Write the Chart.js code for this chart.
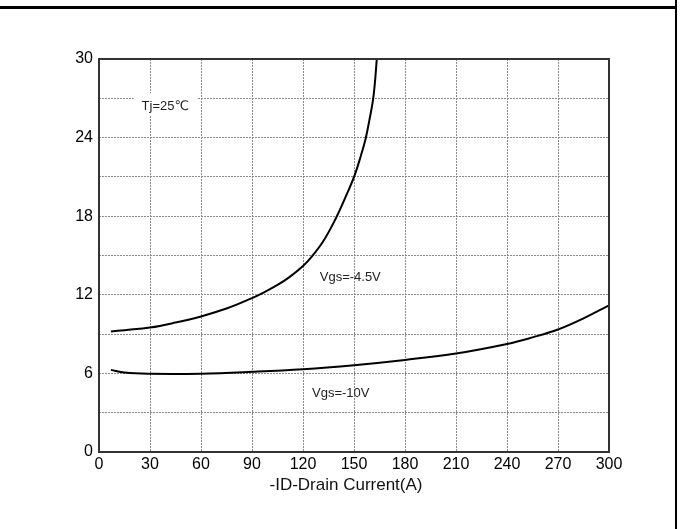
<!DOCTYPE html>
<html>
<head>
<meta charset="utf-8">
<script src="https://cdn.jsdelivr.net/npm/chart.js@4/dist/chart.umd.min.js"></script>
<style>
    body { margin: 0; background: #fff; }
    #wrap { position: relative; width: 693px; height: 529px; }
    #frameTop { position: absolute; left: 0; top: 6px; width: 677px; height: 2.5px; background: #000; }
    #frameRight { position: absolute; left: 674.5px; top: 0; width: 2.5px; height: 529px; background: #000; }
    canvas { position: absolute; left: 0; top: 0; }
</style>
</head>
<body>
<div id="wrap">
    <canvas id="rdsChart" width="693" height="529"></canvas>
    <div id="frameTop"></div>
    <div id="frameRight"></div>
</div>
<script>
// ============================================
// データ
// ============================================

const xTickValues = [0, 30, 60, 90, 120, 150, 180, 210, 240, 270, 300];
const yTickLabels = [0, 6, 12, 18, 24, 30];
const xTitle = '-ID-Drain Current(A)';

// Vgs=-4.5V
const current45 = [7, 15, 30, 45, 60, 75, 90, 96.5, 105, 112, 120, 125.4, 132, 139, 145, 150.3, 154, 156.8, 159, 161.1, 162.3, 163.4];
const rds45 = [9.2, 9.3, 9.5, 9.88, 10.35, 10.95, 11.75, 12.15, 12.75, 13.35, 14.2, 14.95, 16.1, 17.75, 19.45, 21.1, 22.6, 23.9, 25.3, 26.8, 28.2, 30.0];

// Vgs=-10V
const current10 = [7, 15, 30, 60, 90, 120, 150, 180, 210, 240, 255, 270, 285, 300];
const rds10 = [6.27, 6.06, 5.97, 5.98, 6.12, 6.32, 6.63, 7.03, 7.52, 8.25, 8.75, 9.35, 10.2, 11.2];

// 注記 (データ座標)
const notes = [
    { text: 'Tj=25\u2103', x: 39, y: 26.4, box: true },
    { text: 'Vgs=-4.5V', x: 147.8, y: 13.36, box: false },
    { text: 'Vgs=-10V', x: 142.2, y: 4.49, box: false }
];

const FONT = '"Liberation Sans", Arial, "DejaVu Sans", sans-serif';

function toPoints(xs, ys) {
    return xs.map((x, i) => ({ x: x, y: ys[i] }));
}

// ============================================
// プラグイン: 枠線・注記・軸タイトル
// ============================================

const framePlugin = {
    id: 'frameAndNotes',
    afterDatasetsDraw(chart) {
        const ctx = chart.ctx;
        const a = chart.chartArea;
        const xs = chart.scales.x;
        const ys = chart.scales.y;
        ctx.save();
        ctx.font = '13px ' + FONT;
        ctx.textAlign = 'center';
        ctx.textBaseline = 'middle';
        notes.forEach(n => {
            const px = xs.getPixelForValue(n.x);
            const py = ys.getPixelForValue(n.y);
            if (n.box) {
                const w = ctx.measureText(n.text).width;
                ctx.fillStyle = '#fff';
                ctx.fillRect(px - w / 2 - 8, py - 13, w + 16, 22);
            }
            ctx.fillStyle = '#222';
            ctx.fillText(n.text, px, py);
        });

        // 軸タイトル（元図では少し左寄り）
        ctx.font = '17px ' + FONT;
        ctx.fillStyle = '#111';
        ctx.fillText(xTitle, (a.left + a.right) / 2 - 8, a.bottom + 33);

        ctx.strokeStyle = '#333';
        ctx.lineWidth = 2;
        ctx.strokeRect(a.left, a.top, a.right - a.left, a.bottom - a.top);
        ctx.restore();
    }
};

// ============================================
// チャート
// ============================================

const gridOpts = {
    color: '#8a8a8a',
    lineWidth: 1,
    drawTicks: false
};

new Chart(document.getElementById('rdsChart').getContext('2d'), {
    type: 'line',
    data: {
        datasets: [
            {
                label: 'Vgs=-4.5V',
                data: toPoints(current45, rds45),
                borderColor: '#000',
                borderWidth: 2,
                pointRadius: 0,
                tension: 0.4,
                fill: false
            },
            {
                label: 'Vgs=-10V',
                data: toPoints(current10, rds10),
                borderColor: '#000',
                borderWidth: 2,
                pointRadius: 0,
                tension: 0.4,
                fill: false
            }
        ]
    },
    options: {
        responsive: false,
        animation: false,
        layout: { padding: { left: 0, top: 59, right: 84, bottom: 0 } },
        plugins: {
            legend: { display: false },
            tooltip: { enabled: false }
        },
        scales: {
            x: {
                type: 'linear',
                min: 0,
                max: 300,
                afterFit: s => { s.height = 77; },
                afterBuildTicks: s => { s.ticks = xTickValues.map(v => ({ value: v })); },
                ticks: {
                    color: '#000',
                    padding: 3,
                    font: { family: FONT, size: 16 },
                    maxRotation: 0,
                    autoSkip: false
                },
                grid: gridOpts,
                border: { display: false, dash: [2, 1] }
            },
            y: {
                min: 0,
                max: 30,
                afterFit: s => { s.width = 99; },
                ticks: {
                    stepSize: 3,
                    color: '#000',
                    padding: 6,
                    font: { family: FONT, size: 16 },
                    callback: v => yTickLabels.includes(v) ? String(v) : ''
                },
                grid: gridOpts,
                border: { display: false, dash: [2, 1] }
            }
        }
    },
    plugins: [framePlugin]
});
</script>
</body>
</html>
